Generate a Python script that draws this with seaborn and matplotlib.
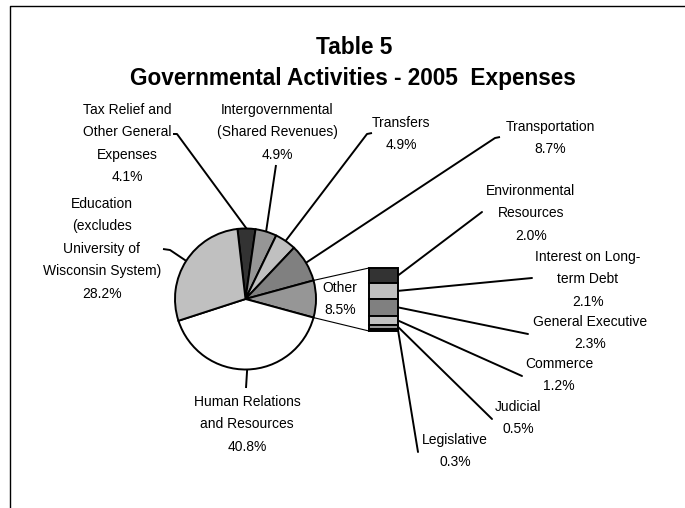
import numpy as np
import matplotlib
matplotlib.use("Agg")
import matplotlib.pyplot as plt
import seaborn as sns

# ---------------- data ----------------
title_lines = ["Table 5", "Governmental Activities - 2005  Expenses"]

pie_labels = [
    "Tax Relief and\nOther General\nExpenses",
    "Intergovernmental\n(Shared Revenues)",
    "Transfers",
    "Transportation",
    "Other",
    "Human Relations\nand Resources",
    "Education\n(excludes\nUniversity of\nWisconsin System)",
]
pie_values = [4.1, 4.9, 4.9, 8.7, 8.5, 40.8, 28.2]
pie_colors = ["#333333", "#969696", "#c0c0c0", "#808080", "#969696", "#ffffff", "#c0c0c0"]
other_index = 4

bar_labels = [
    "Environmental\nResources",
    "Interest on Long-\nterm Debt",
    "General Executive",
    "Commerce",
    "Judicial",
    "Legislative",
]
bar_values = [2.0, 2.1, 2.3, 1.2, 0.5, 0.3]
bar_colors = ["#333333", "#c0c0c0", "#808080", "#c0c0c0", "#969696", "#333333"]

# ---------------- layout (pixels, origin top-left) ----------------
W, H = 685, 508
PCX, PCY, R = 245.5, 299, 70.5          # pie centre / radius
BX, BW, BTOP, BSCALE = 369, 29, 268, 7.5  # bar left, width, top, px per unit
LINE_DY = 22.4

pie_label_pos = [(127, 110), (277, 110), (401, 123), (550, 127), (340, 288), (247, 402), (102, 204)]
pie_leader_pts = [[(173, 134), (177, 134)], [(276, 165)], [(372, 133), (367, 134)],
                  [(500, 137), (495, 138)], None, [(246, 388)], [(163, 249), (170, 250)]]
bar_label_pos = [(531, 191), (588, 257), (590, 322), (559, 364), (518, 407), (455, 440)]
bar_leader_pts = [(482, 212), (532, 278), (528, 334), (522, 376), (492, 419), (418, 452)]

sns.set_theme(style="white")
plt.rcParams["font.family"] = ["Liberation Sans", "DejaVu Sans"]
plt.rcParams["text.color"] = "black"

fig = plt.figure(figsize=(W / 100, H / 100), dpi=100)
ax = fig.add_axes([0, 0, 1, 1])


def Y(y):
    return H - y


# pie: "Other" slice centred on the horizontal, like Excel's pie-of-bar
total = sum(pie_values)
start = (sum(pie_values[:other_index]) + pie_values[other_index] / 2) / total * 360
wedges, _ = ax.pie(pie_values, colors=pie_colors, startangle=start, counterclock=False,
                   center=(PCX, Y(PCY)), radius=R, frame=True,
                   wedgeprops=dict(edgecolor="black", linewidth=1.4))

ax.set_xlim(0, W)
ax.set_ylim(0, H)
ax.axis("off")


def wedge_point(w, frac=0.5):
    a = np.deg2rad(w.theta1 + (w.theta2 - w.theta1) * frac)
    return (PCX + R * np.cos(a), Y(PCY) + R * np.sin(a))


def put_label(cx, y1, text, size=10):
    for k, line in enumerate(text.split("\n")):
        ax.text(cx, Y(y1 + k * LINE_DY), line, ha="center", va="center",
                fontsize=size, color="black")


lw_lead = 1.4
for i, (lab, val) in enumerate(zip(pie_labels, pie_values)):
    cx, y1 = pie_label_pos[i]
    put_label(cx, y1, f"{lab}\n{val:.1f}%")
    pts = pie_leader_pts[i]
    if pts is not None:
        end = wedge_point(wedges[i])
        xs = [p[0] for p in pts] + [end[0]]
        ys = [Y(p[1]) for p in pts] + [end[1]]
        ax.plot(xs, ys, color="black", lw=lw_lead, solid_capstyle="butt")

# stacked bar of the "Other" slice
cum = np.concatenate([[0], np.cumsum(bar_values)])
for i, v in enumerate(bar_values):
    top_px = BTOP + cum[i] * BSCALE
    bot_px = BTOP + cum[i + 1] * BSCALE
    ax.bar(BX, bot_px - top_px, bottom=Y(bot_px), width=BW, align="edge",
           color=bar_colors[i], edgecolor="black", linewidth=1.4)
    cx, y1 = bar_label_pos[i]
    put_label(cx, y1, f"{bar_labels[i]}\n{v:.1f}%")
    mid = (top_px + bot_px) / 2
    lx, ly = bar_leader_pts[i]
    ax.plot([BX + BW, lx], [Y(mid), Y(ly)], color="black", lw=lw_lead)

# connector lines between "Other" slice and the bar
ow = wedges[other_index]
p_up = wedge_point(ow, 1.0 if ow.theta2 > ow.theta1 else 0.0)
p_dn = wedge_point(ow, 0.0 if ow.theta2 > ow.theta1 else 1.0)
bar_bottom = BTOP + cum[-1] * BSCALE
ax.plot([p_up[0], BX], [p_up[1], Y(BTOP)], color="black", lw=0.8)
ax.plot([p_dn[0], BX], [p_dn[1], Y(bar_bottom)], color="black", lw=0.8)

# title
ax.text(354, Y(47), title_lines[0], ha="center", va="center", fontsize=16.3,
        fontweight="bold", color="black")
ax.text(353, Y(78), title_lines[1], ha="center", va="center", fontsize=16.3,
        fontweight="bold", color="black")

# chart-area border (left and top edges visible)
ax.plot([10, 10, W + 5], [-5, Y(6), Y(6)], color="black", lw=1.0, clip_on=False)

fig.savefig("out.png", dpi=100)
